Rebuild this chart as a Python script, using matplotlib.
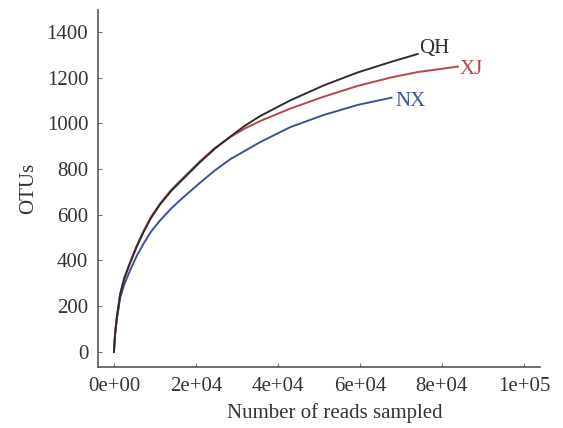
import matplotlib
matplotlib.use("Agg")
import matplotlib.pyplot as plt

plt.rcParams['font.family'] = ['Liberation Serif', 'DejaVu Serif']

# Data
qh_reads = [0, 300, 700, 1500, 2500, 3900, 5500, 7100, 9000, 11250, 14000, 16900, 21000,
            24700, 28400, 32000, 35700, 43000, 51100, 59400, 67500, 74100]
qh_otus = [0, 85, 150, 250, 320, 387, 458, 520, 585, 645, 705, 757, 830,
           890, 942, 990, 1032, 1100, 1165, 1222, 1268, 1303]

xj_reads = [0, 300, 700, 1500, 2500, 3900, 5500, 7100, 9000, 11250, 14000, 16900, 21000,
            24700, 28400, 32000, 35700, 43000, 51100, 59400, 67500, 74100, 83900]
xj_otus = [0, 86, 152, 252, 323, 390, 462, 524, 589, 649, 709, 761, 834,
           893, 940, 978, 1010, 1064, 1116, 1163, 1200, 1224, 1248]

nx_reads = [0, 300, 700, 1500, 2500, 3900, 5500, 7100, 9000, 11250, 14000, 16900, 21000,
            24700, 28400, 35700, 43000, 51100, 59400, 67700]
nx_otus = [0, 82, 140, 235, 295, 355, 418, 470, 525, 575, 628, 676, 740,
           795, 843, 918, 983, 1036, 1080, 1112]

x_ticks = [0, 20000, 40000, 60000, 80000, 100000]
x_ticklabels = ["0e+00", "2e+04", "4e+04", "6e+04", "8e+04", "1e+05"]
y_ticks = [0, 200, 400, 600, 800, 1000, 1200, 1400]

fig = plt.figure(figsize=(5.63, 4.28), dpi=100)
ax = fig.add_axes([0.174, 0.1425, 0.785, 0.835])

c_qh, c_xj, c_nx = "#2e2e2e", "#b8444c", "#3d5199"
ax.plot(nx_reads, nx_otus, color=c_nx, lw=1.4)
ax.plot(xj_reads, xj_otus, color=c_xj, lw=1.4)
ax.plot(qh_reads, qh_otus, color=c_qh, lw=1.4)

ax.annotate("QH", (qh_reads[-1], qh_otus[-1]), xytext=(1, 4), textcoords="offset points",
            ha="left", va="center", fontsize=15, color=c_qh)
ax.annotate("XJ", (xj_reads[-1], xj_otus[-1]), xytext=(1, -2), textcoords="offset points",
            ha="left", va="center", fontsize=15, color=c_xj)
ax.annotate("NX", (nx_reads[-1], nx_otus[-1]), xytext=(3, -3), textcoords="offset points",
            ha="left", va="center", fontsize=15, color=c_nx)

ax.set_xlim(-3900, 103900)
ax.set_ylim(-66, 1497)
ax.set_xticks(x_ticks)
ax.set_xticklabels(x_ticklabels)
ax.set_yticks(y_ticks)
for s in ["top", "right"]:
    ax.spines[s].set_visible(False)
for s in ["left", "bottom"]:
    ax.spines[s].set_color("#555555")
    ax.spines[s].set_linewidth(1.2)
ax.tick_params(axis="both", direction="in", length=3, width=0.8, color="#777777",
               labelsize=15, labelcolor="#333333")
ax.tick_params(axis="y", pad=7)
ax.tick_params(axis="x", pad=7)
ax.set_xlabel("Number of reads sampled", fontsize=15, color="#333333")
ax.xaxis.set_label_coords(0.536, -0.10)
ax.set_ylabel("OTUs", fontsize=15, color="#333333", labelpad=6)

fig.savefig("out.png", dpi=100)
